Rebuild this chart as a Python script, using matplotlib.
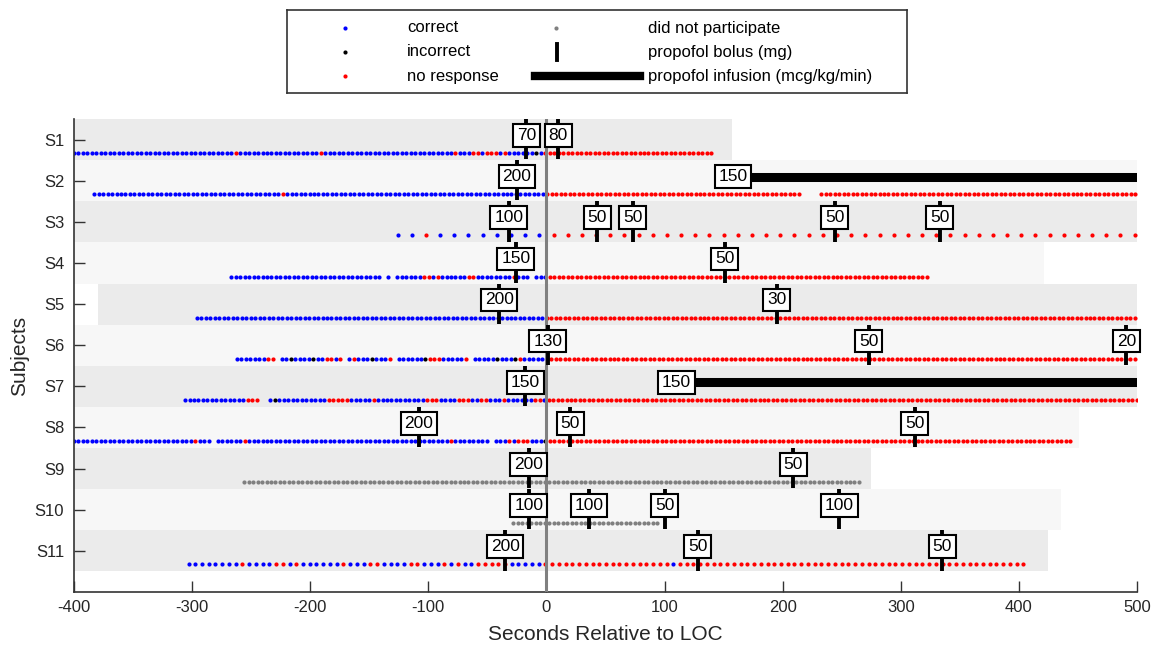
import re
import numpy as np
import matplotlib
matplotlib.use('Agg')
from matplotlib import pyplot as plt

plt.rcParams['font.family'] = ['Liberation Sans', 'DejaVu Sans']
plt.rcParams['axes.unicode_minus'] = False

subjects = ['S1', 'S2', 'S3', 'S4', 'S5', 'S6', 'S7', 'S8', 'S9', 'S10', 'S11']

# recording window per subject (s relative to LOC)
band_start = [-400, -400, -400, -400, -380, -400, -400, -400, -400, -400, -400]
band_end = [157, 500, 500, 421, 500, 500, 500, 451, 275, 436, 425]

# first trial time, trial spacing (s) and responses read left to right
# c = correct, i = incorrect, n = no response, d = did not participate, _ = no trial
trial_start = [-400, -383, -126, -267, -296, -262, -306, -400, -256, -28, -303]
trial_step = [3.8, 3.8, 12, 3.8, 3.8, 3.8, 3.8, 3.8, 3.8, 3.8, 5.7]
responses = [
    "36c 1n 18c 1n 29c 1n 3c 2n 1c 3n 1c 1n 6c 1i 1c 38n",
    "42c 1n 58c 57n 4_ 71n",
    "2c 1n 8c 42n",
    "34c 1_ 1c 1_ 6c 2n 1c 1n 6c 2n 8c 1n 3c 1_ 3c 85n",
    "78c 132n",
    "7c 2n 1_ 2c 1i 4c 1i 2c 2n 1c 1n 1_ 1c 1n 3c 1i 3c 1n 1_ 6c 1i 3n 5c 1n 1_ 5c 1i 3c 1i 1n 5c 132n",
    "14c 3n 2_ 1c 1i 11c 5n 5c 1n 11c 3n 4c 3n 2c 2n 3c 1n 6c 2n 1c 132n",
    "27c 1n 3c 1_ 6c 1n 45c 1n 8c 1_ 3c 1n 1c 3n 3c 1i 117n",
    "138d",
    "33d",
    "8c 1n 4c 2n 1c 1n 6c 1n 3c 2n 4c 2n 3c 1n 1c 1n 2c 5n 5c 19n 1c 52n",
]

# propofol boluses (s, mg)
bolus_times = [[-17, 10], [-25], [-32, 43, 73, 244, 333], [-26, 151], [-40, 195],
               [1, 273, 491], [-18], [-108, 20, 312], [-15, 209], [-15, 36, 100, 248],
               [-35, 128, 335]]
bolus_mg = [[70, 80], [200], [100, 50, 50, 50, 50], [150, 50], [200, 30],
            [130, 50, 20], [150], [200, 50, 50], [200, 50], [100, 100, 50, 100],
            [200, 50, 50]]

# propofol infusions (subject row, start s, mcg/kg/min)
infusion_row = [2, 7]
infusion_start = [158, 110]
infusion_rate = [150, 150]

colors = {'c': (0, 0, 1), 'i': (0, 0, 0), 'n': (1, 0, 0), 'd': (0.5, 0.5, 0.5)}
axcol = '#333333'


def expand(runs):
    out = ''
    for n, c in re.findall(r'(\d+)([cind_])', runs):
        out += c * int(n)
    return out


fig = plt.figure(figsize=(11.53, 6.46), dpi=100)
ax = fig.add_axes([74 / 1153, 54 / 646, 1063 / 1153, 473 / 646])

rows = np.arange(1, len(subjects) + 1)

# background bands
band_cols = ['#ebebeb' if r % 2 == 1 else '#f7f7f7' for r in rows]
ax.barh(rows, np.array(band_end) - np.array(band_start), left=band_start,
        height=1, color=band_cols, lw=0, zorder=0)

# trial dots
for r, s0, step, runs in zip(rows, trial_start, trial_step, responses):
    codes = np.array(list(expand(runs)))
    t = s0 + step * np.arange(len(codes))
    for c, col in colors.items():
        m = codes == c
        if m.any():
            ax.plot(t[m], np.full(m.sum(), r + 0.33), 'o', color=col,
                    ms=3, mew=0, zorder=2)

# LOC line
ax.axvline(0, color=(0.5, 0.5, 0.5), lw=2.2, zorder=3)

box = dict(boxstyle='square,pad=0.22', fc='white', ec='black', lw=1.5)

# infusions
for r, t0, rate in zip(infusion_row, infusion_start, infusion_rate):
    ax.hlines(r - 0.1, t0, 500, color='k', lw=6.5, zorder=4)
    ax.text(t0, r - 0.1, str(rate), ha='center', va='center', fontsize=12.5,
            bbox=box, zorder=6)

# boluses
for r, ts, mgs in zip(rows, bolus_times, bolus_mg):
    for t, mg in zip(ts, mgs):
        ax.vlines(t, r - 0.5, r + 0.48, color='k', lw=2.8, zorder=4)
        ax.text(t, r - 0.1, str(mg), ha='center', va='center', fontsize=12.5,
                bbox=box, zorder=6)

ax.set_xlim(-400, 500)
ax.set_ylim(12, 0.5)
ax.set_xticks(np.arange(-400, 501, 100))
ax.set_yticks(rows)
ax.set_yticklabels(subjects)
for side in ['top', 'right']:
    ax.spines[side].set_visible(False)
for side in ['left', 'bottom']:
    ax.spines[side].set_color(axcol)
    ax.spines[side].set_linewidth(1.2)
ax.tick_params(direction='in', length=8, width=1, color=axcol,
               labelcolor='#262626', labelsize=12)
ax.tick_params(axis='x', pad=6)
ax.tick_params(axis='y', pad=7)
ax.set_xlabel('Seconds Relative to LOC', fontsize=15, color='#262626', labelpad=7)
ax.set_ylabel('Subjects', fontsize=15, color='#262626', labelpad=4)

# legend drawn in its own box, pixel-like coordinates
lax = fig.add_axes([287 / 1153, 1 - 93 / 646, 620 / 1153, 83 / 646])
lax.set_xlim(287, 907)
lax.set_ylim(93, 10)
lax.set_xticks([])
lax.set_yticks([])
for sp in lax.spines.values():
    sp.set_color(axcol)
    sp.set_linewidth(1.2)
for y, c, lab in [(28, 'c', 'correct'), (52, 'i', 'incorrect'), (76, 'n', 'no response')]:
    lax.plot(345, y, 'o', color=colors[c], ms=3, mew=0)
    lax.text(407, y, lab, va='center', fontsize=12)
lax.plot(556, 28, 'o', color=colors['d'], ms=3, mew=0)
lax.text(648, 28, 'did not participate', va='center', fontsize=12)
lax.plot([557, 557], [44, 60], color='k', lw=2.8)
lax.text(648, 52, 'propofol bolus (mg)', va='center', fontsize=12)
lax.plot([535, 640], [76, 76], color='k', lw=6)
lax.text(648, 76, 'propofol infusion (mcg/kg/min)', va='center', fontsize=12)

plt.savefig('out.png', dpi=100)
plt.close()
